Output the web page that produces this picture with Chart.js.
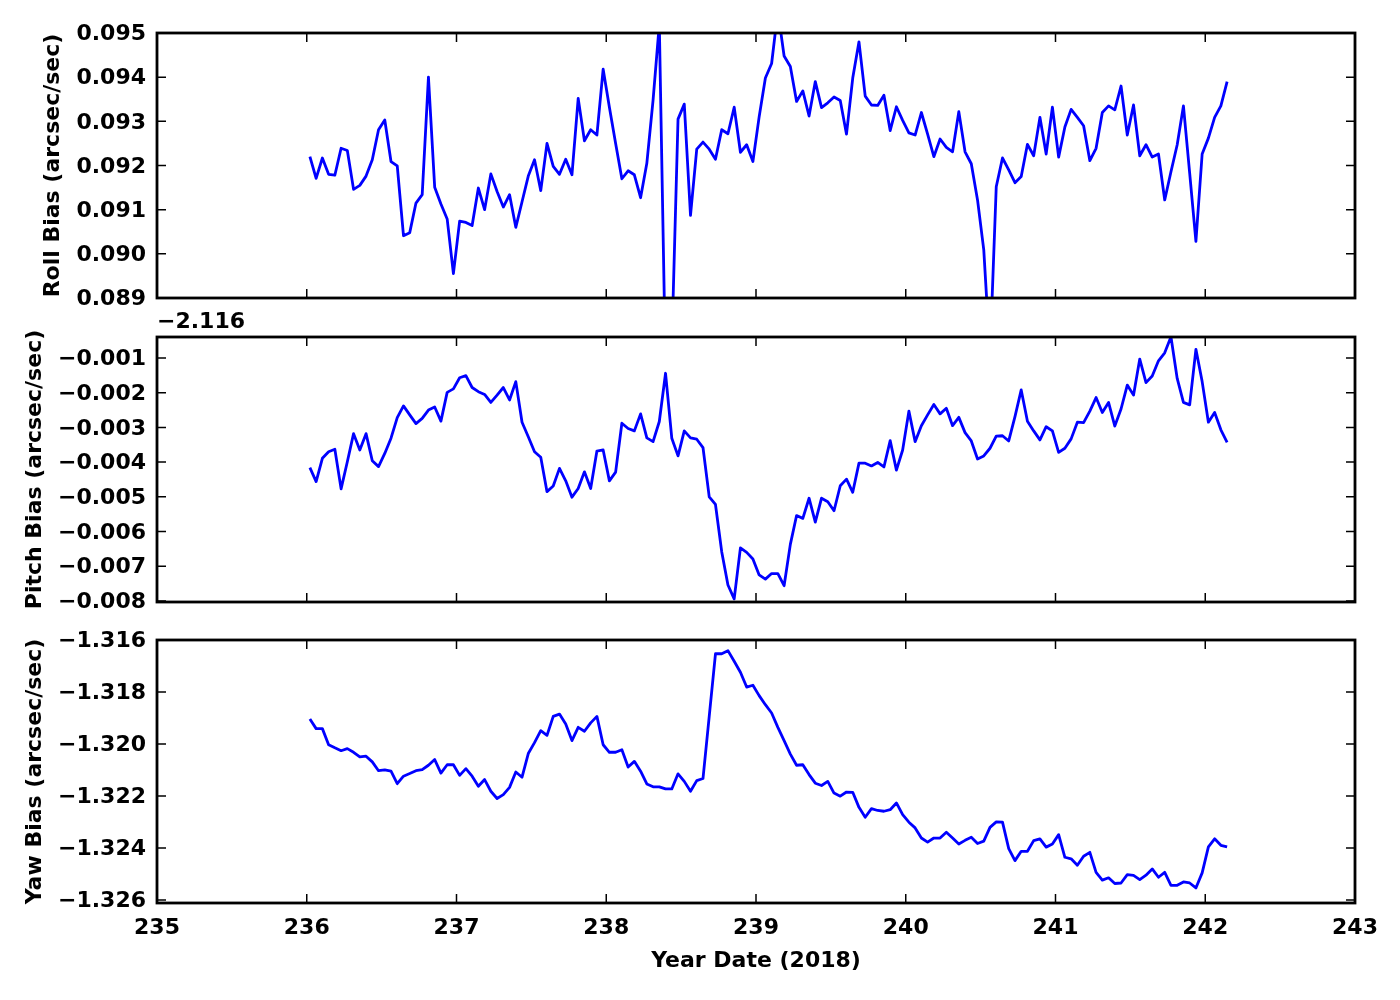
<!DOCTYPE html>
<html>
<head>
<meta charset="utf-8">
<title>Roll / Pitch / Yaw Bias</title>
<script src="https://cdn.jsdelivr.net/npm/chart.js@4.4.0/dist/chart.umd.min.js"></script>
<style>
    html, body { margin: 0; padding: 0; background: #fff; }
    #wrap { position: relative; width: 1400px; height: 1000px; overflow: hidden; }
    #wrap canvas { position: absolute; left: 0; }
</style>
</head>
<body>
<div id="wrap">
    <canvas id="rollChart" width="1400" height="330" style="top:0px"></canvas>
    <canvas id="pitchChart" width="1400" height="320" style="top:310px"></canvas>
    <canvas id="yawChart" width="1400" height="390" style="top:610px"></canvas>
</div>
<script>
// Hourly samples, first one at day 236.021 (2018)
const dayStart = 236.021;
const dayStep = 1 / 24;

const xTicks = [235, 236, 237, 238, 239, 240, 241, 242, 243];
const rollTicks = [0.089, 0.090, 0.091, 0.092, 0.093, 0.094, 0.095];
const pitchTicks = [-0.008, -0.007, -0.006, -0.005, -0.004, -0.003, -0.002, -0.001];
const yawTicks = [-1.326, -1.324, -1.322, -1.320, -1.318, -1.316];

// Roll bias (arcsec/sec)
const roll = [
    0.09220, 0.09171, 0.09217, 0.09180, 0.09178, 0.09239, 0.09234, 0.09146, 0.09155, 0.09176,
    0.09213, 0.09281, 0.09303, 0.09209, 0.09199, 0.09041, 0.09048, 0.09115, 0.09134, 0.09400,
    0.09151, 0.09113, 0.09079, 0.08955, 0.09074, 0.09071, 0.09064, 0.09149, 0.09100, 0.09181,
    0.09141, 0.09106, 0.09134, 0.09060, 0.09118, 0.09176, 0.09213, 0.09143, 0.09250, 0.09198,
    0.09180, 0.09214, 0.09179, 0.09352, 0.09256, 0.09281, 0.09269, 0.09418, 0.09332, 0.09250,
    0.09170, 0.09188, 0.09179, 0.09127, 0.09205, 0.09348, 0.09520, 0.08740, 0.08790, 0.09305,
    0.09339, 0.09087, 0.09237, 0.09253, 0.09237, 0.09214, 0.09281, 0.09272, 0.09332, 0.09230,
    0.09247, 0.09209, 0.09310, 0.09398, 0.09431, 0.09550, 0.09448, 0.09424, 0.09345, 0.09369,
    0.09312, 0.09390, 0.09331, 0.09342, 0.09355, 0.09347, 0.09271, 0.09398, 0.09480, 0.09357,
    0.09337, 0.09336, 0.09359, 0.09279, 0.09333, 0.09302, 0.09274, 0.09269, 0.09320, 0.09271,
    0.09220, 0.09260, 0.09241, 0.09231, 0.09322, 0.09231, 0.09204, 0.09122, 0.09009, 0.08770,
    0.09152, 0.09217, 0.09190, 0.09161, 0.09175, 0.09248, 0.09222, 0.09309, 0.09226, 0.09332,
    0.09219, 0.09287, 0.09327, 0.09309, 0.09290, 0.09211, 0.09239, 0.09320, 0.09335, 0.09326,
    0.09380, 0.09269, 0.09337, 0.09222, 0.09247, 0.09219, 0.09226, 0.09122, 0.09186, 0.09247,
    0.09335, 0.09183, 0.09028, 0.09226, 0.09262, 0.09309, 0.09335, 0.09390
];

// Pitch bias, shown as offset from -2.116 (like the axis does)
const pitchOffset = -2.116;
const pitchDelta = [
    -0.00416, -0.00456, -0.00389, -0.00370, -0.00363, -0.00477, -0.00399, -0.00318, -0.00365, -0.00318,
    -0.00396, -0.00413, -0.00375, -0.00331, -0.00272, -0.00238, -0.00264, -0.00289, -0.00274, -0.00250,
    -0.00241, -0.00282, -0.00199, -0.00189, -0.00157, -0.00151, -0.00185, -0.00197, -0.00205, -0.00228,
    -0.00207, -0.00185, -0.00221, -0.00168, -0.00285, -0.00327, -0.00370, -0.00386, -0.00485, -0.00469,
    -0.00418, -0.00454, -0.00501, -0.00476, -0.00428, -0.00476, -0.00368, -0.00365, -0.00454, -0.00429,
    -0.00288, -0.00303, -0.00310, -0.00261, -0.00330, -0.00341, -0.00283, -0.00144, -0.00331, -0.00382,
    -0.00310, -0.00330, -0.00334, -0.00358, -0.00500, -0.00522, -0.00658, -0.00754, -0.00794, -0.00647,
    -0.00660, -0.00679, -0.00725, -0.00737, -0.00721, -0.00721, -0.00756, -0.00637, -0.00554, -0.00562,
    -0.00504, -0.00573, -0.00504, -0.00514, -0.00540, -0.00468, -0.00449, -0.00487, -0.00403, -0.00403,
    -0.00411, -0.00401, -0.00414, -0.00338, -0.00423, -0.00365, -0.00253, -0.00341, -0.00295, -0.00264,
    -0.00234, -0.00261, -0.00245, -0.00295, -0.00271, -0.00315, -0.00339, -0.00391, -0.00382, -0.00360,
    -0.00325, -0.00324, -0.00339, -0.00269, -0.00192, -0.00282, -0.00310, -0.00336, -0.00298, -0.00310,
    -0.00372, -0.00360, -0.00333, -0.00285, -0.00286, -0.00253, -0.00214, -0.00257, -0.00228, -0.00296,
    -0.00247, -0.00178, -0.00207, -0.00103, -0.00171, -0.00152, -0.00108, -0.00085, -0.00039, -0.00159,
    -0.00228, -0.00235, -0.00075, -0.00168, -0.00285, -0.00257, -0.00307, -0.00343
];

// Yaw bias (arcsec/sec)
const yaw = [
    -1.31904, -1.31941, -1.31941, -1.32003, -1.32015, -1.32026, -1.32018, -1.32032, -1.32050, -1.32047,
    -1.32069, -1.32103, -1.32100, -1.32105, -1.32153, -1.32124, -1.32114, -1.32103, -1.32099, -1.32082,
    -1.32060, -1.32112, -1.32080, -1.32080, -1.32121, -1.32095, -1.32124, -1.32163, -1.32137, -1.32182,
    -1.32210, -1.32195, -1.32167, -1.32108, -1.32128, -1.32037, -1.31995, -1.31949, -1.31967, -1.31894,
    -1.31885, -1.31923, -1.31987, -1.31936, -1.31951, -1.31919, -1.31894, -1.32003, -1.32032, -1.32032,
    -1.32022, -1.32089, -1.32067, -1.32105, -1.32154, -1.32165, -1.32165, -1.32173, -1.32173, -1.32115,
    -1.32144, -1.32182, -1.32141, -1.32133, -1.31894, -1.31653, -1.31653, -1.31641, -1.31682, -1.31724,
    -1.31781, -1.31774, -1.31814, -1.31849, -1.31881, -1.31936, -1.31987, -1.32039, -1.32082, -1.32080,
    -1.32118, -1.32151, -1.32160, -1.32144, -1.32189, -1.32201, -1.32185, -1.32186, -1.32244, -1.32282,
    -1.32249, -1.32256, -1.32259, -1.32253, -1.32227, -1.32272, -1.32301, -1.32323, -1.32362, -1.32378,
    -1.32362, -1.32362, -1.32340, -1.32362, -1.32385, -1.32371, -1.32359, -1.32383, -1.32374, -1.32321,
    -1.32300, -1.32301, -1.32403, -1.32449, -1.32413, -1.32413, -1.32372, -1.32365, -1.32397, -1.32385,
    -1.32349, -1.32436, -1.32442, -1.32467, -1.32432, -1.32417, -1.32494, -1.32524, -1.32515, -1.32537,
    -1.32535, -1.32503, -1.32506, -1.32522, -1.32505, -1.32481, -1.32513, -1.32494, -1.32544, -1.32544,
    -1.32531, -1.32535, -1.32554, -1.32496, -1.32396, -1.32365, -1.32390, -1.32396
];

const FONT = "'DejaVu Sans', 'Liberation Sans', sans-serif";
const tickFont = { family: FONT, size: 22, weight: 'bold' };
const PLOT_LEFT = 157;

function fmt(v) {
    return v.toFixed(3).replace('-', '\u2212');
}

// black box round the plot area + inward ticks on all four sides
const framePlugin = {
    id: 'frame',
    afterDatasetsDraw(chart) {
        const { ctx, chartArea: a, scales } = chart;
        const yVals = chart.options.scales.y.tickValues;
        ctx.save();
        ctx.strokeStyle = '#000';
        ctx.lineWidth = 1.5;
        ctx.beginPath();
        xTicks.forEach(v => {
            const px = scales.x.getPixelForValue(v);
            ctx.moveTo(px, a.top); ctx.lineTo(px, a.top + 9);
            ctx.moveTo(px, a.bottom); ctx.lineTo(px, a.bottom - 9);
        });
        yVals.forEach(v => {
            const py = scales.y.getPixelForValue(v);
            ctx.moveTo(a.left, py); ctx.lineTo(a.left + 9, py);
            ctx.moveTo(a.right, py); ctx.lineTo(a.right - 9, py);
        });
        ctx.stroke();
        ctx.lineWidth = 2.8;
        ctx.strokeRect(a.left, a.top, a.right - a.left, a.bottom - a.top);

        const offsetText = chart.options.plugins.frame && chart.options.plugins.frame.offsetText;
        if (offsetText) {
            ctx.fillStyle = '#000';
            ctx.font = 'bold 22px ' + FONT;
            ctx.textAlign = 'left';
            ctx.textBaseline = 'middle';
            ctx.fillText(offsetText, a.left, a.top - 15);
        }
        ctx.restore();
    }
};

function makePanel(id, values, cfg) {
    const points = values.map((v, i) => ({ x: dayStart + i * dayStep, y: v }));
    return new Chart(document.getElementById(id), {
        type: 'line',
        data: {
            datasets: [{
                data: points,
                borderColor: '#0000ff',
                borderWidth: 2.8,
                borderJoinStyle: 'round',
                pointRadius: 0,
                fill: false,
                tension: 0,
                clip: 0
            }]
        },
        options: {
            responsive: false,
            animation: false,
            devicePixelRatio: 1,
            layout: { padding: cfg.padding },
            plugins: {
                legend: { display: false },
                tooltip: { enabled: false },
                frame: { offsetText: cfg.offsetText }
            },
            scales: {
                x: {
                    type: 'linear',
                    min: 235,
                    max: 243,
                    display: cfg.showX,
                    grid: { display: false, drawTicks: false },
                    border: { display: false },
                    afterBuildTicks: s => { s.ticks = xTicks.map(v => ({ value: v })); },
                    ticks: {
                        color: '#000',
                        font: tickFont,
                        padding: 12,
                        maxRotation: 0,
                        autoSkip: false,
                        callback: v => String(v)
                    },
                    title: {
                        display: cfg.showX,
                        text: 'Year Date (2018)',
                        color: '#000',
                        font: tickFont,
                        padding: { top: 4, bottom: 26 }
                    },
                    afterFit: s => { if (cfg.showX) s.height = 97; }
                },
                y: {
                    type: 'linear',
                    min: cfg.min,
                    max: cfg.max,
                    tickValues: cfg.ticks,
                    grid: { display: false, drawTicks: false },
                    border: { display: false },
                    afterBuildTicks: s => { s.ticks = cfg.ticks.map(v => ({ value: v })); },
                    ticks: {
                        color: '#000',
                        font: tickFont,
                        padding: 11,
                        labelOffset: 1.5,
                        autoSkip: false,
                        callback: v => fmt(v)
                    },
                    title: {
                        display: true,
                        text: cfg.title,
                        color: '#000',
                        font: tickFont,
                        padding: { top: 4, bottom: 4 }
                    },
                    afterFit: s => { s.width = PLOT_LEFT - cfg.padding.left; }
                }
            }
        },
        plugins: [framePlugin]
    });
}

makePanel('rollChart', roll, {
    title: 'Roll Bias (arcsec/sec)',
    min: 0.089, max: 0.095, ticks: rollTicks,
    showX: false,
    padding: { left: 36, right: 45, top: 33, bottom: 32 }
});

makePanel('pitchChart', pitchDelta, {
    title: 'Pitch Bias (arcsec/sec)',
    min: -0.00803, max: -0.000395, ticks: pitchTicks,
    showX: false,
    offsetText: fmt(pitchOffset),
    padding: { left: 18, right: 45, top: 27, bottom: 28 }
});

makePanel('yawChart', yaw, {
    title: 'Yaw Bias (arcsec/sec)',
    min: -1.32612, max: -1.316, ticks: yawTicks,
    showX: true,
    padding: { left: 18, right: 45, top: 30, bottom: 0 }
});
</script>
</body>
</html>
